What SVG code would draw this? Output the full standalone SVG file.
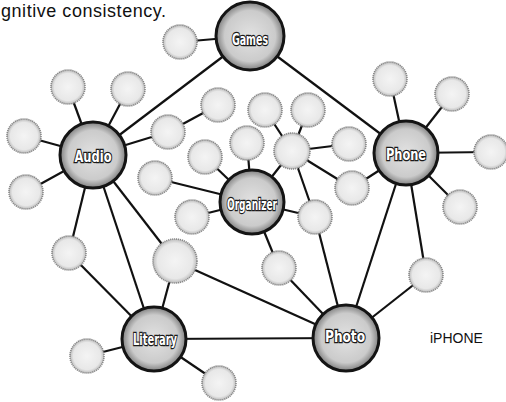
<svg xmlns="http://www.w3.org/2000/svg" width="506" height="402" viewBox="0 0 506 402">
<defs>
<radialGradient id="gMain" cx="50%" cy="50%" r="50%">
<stop offset="0%" stop-color="#e2e2e2"/>
<stop offset="75%" stop-color="#cbcbcb"/>
<stop offset="100%" stop-color="#808080"/>
</radialGradient>
<radialGradient id="gSmall" cx="50%" cy="50%" r="50%">
<stop offset="0%" stop-color="#f4f4f4"/>
<stop offset="80%" stop-color="#e8e8e8"/>
<stop offset="100%" stop-color="#bcbcbc"/>
</radialGradient>
</defs>
<style>
.main{fill:url(#gMain);stroke:#141414;stroke-width:3}
.small{fill:url(#gSmall);stroke:#888888;stroke-width:1.6;stroke-dasharray:1.2 0.8}
.lbl{font-family:"DejaVu Sans Condensed","Liberation Sans Narrow","Liberation Sans",sans-serif;font-weight:bold;font-size:16px;fill:#ffffff;stroke:#1a1a1a;stroke-width:2.4;paint-order:stroke;text-anchor:middle}
#connectors line{stroke:#111;stroke-width:2.2}
.note{font-family:"Liberation Sans",Arial,sans-serif;fill:#111}
</style>
<rect width="506" height="402" fill="#ffffff"/>
<text class="note" x="1" y="17" font-size="18" textLength="165" lengthAdjust="spacing">gnitive consistency.</text>
<g id="connectors">
<line x1="250" y1="36" x2="180" y2="42"/>
<line x1="250" y1="36" x2="93" y2="155"/>
<line x1="250" y1="36" x2="406" y2="153"/>
<line x1="93" y1="155" x2="68" y2="87"/>
<line x1="93" y1="155" x2="128" y2="89"/>
<line x1="93" y1="155" x2="24" y2="136"/>
<line x1="93" y1="155" x2="26" y2="192"/>
<line x1="93" y1="155" x2="168" y2="132"/>
<line x1="168" y1="132" x2="218" y2="105"/>
<line x1="93" y1="155" x2="69" y2="253"/>
<line x1="93" y1="155" x2="154" y2="339"/>
<line x1="93" y1="155" x2="175" y2="261"/>
<line x1="69" y1="253" x2="154" y2="339"/>
<line x1="175" y1="261" x2="154" y2="339"/>
<line x1="175" y1="261" x2="346" y2="338"/>
<line x1="154" y1="339" x2="346" y2="338"/>
<line x1="154" y1="339" x2="87" y2="356"/>
<line x1="154" y1="339" x2="219" y2="383"/>
<line x1="252" y1="202" x2="205" y2="157"/>
<line x1="252" y1="202" x2="155" y2="178"/>
<line x1="252" y1="202" x2="247" y2="143"/>
<line x1="252" y1="202" x2="292" y2="151"/>
<line x1="252" y1="202" x2="192" y2="217"/>
<line x1="252" y1="202" x2="315" y2="217"/>
<line x1="252" y1="202" x2="279" y2="268"/>
<line x1="292" y1="151" x2="265" y2="110"/>
<line x1="292" y1="151" x2="308" y2="110"/>
<line x1="292" y1="151" x2="349" y2="144"/>
<line x1="292" y1="151" x2="352" y2="188"/>
<line x1="292" y1="151" x2="315" y2="217"/>
<line x1="315" y1="217" x2="346" y2="338"/>
<line x1="279" y1="268" x2="346" y2="338"/>
<line x1="352" y1="188" x2="406" y2="153"/>
<line x1="406" y1="153" x2="390" y2="79"/>
<line x1="406" y1="153" x2="452" y2="94"/>
<line x1="406" y1="153" x2="491" y2="152"/>
<line x1="406" y1="153" x2="460" y2="207"/>
<line x1="406" y1="153" x2="346" y2="338"/>
<line x1="406" y1="153" x2="426" y2="275"/>
<line x1="426" y1="275" x2="346" y2="338"/>
</g>
<g id="n1"><circle class="small" cx="180" cy="42" r="17"/></g>
<g id="n2"><circle class="small" cx="68" cy="87" r="17"/></g>
<g id="n3"><circle class="small" cx="128" cy="89" r="17"/></g>
<g id="n4"><circle class="small" cx="24" cy="136" r="17"/></g>
<g id="n5"><circle class="small" cx="26" cy="192" r="17"/></g>
<g id="n6"><circle class="small" cx="168" cy="132" r="17"/></g>
<g id="n7"><circle class="small" cx="218" cy="105" r="17"/></g>
<g id="n8"><circle class="small" cx="205" cy="157" r="17"/></g>
<g id="n9"><circle class="small" cx="155" cy="178" r="17"/></g>
<g id="n10"><circle class="small" cx="247" cy="143" r="17"/></g>
<g id="n11"><circle class="small" cx="292" cy="151" r="18"/></g>
<g id="n12"><circle class="small" cx="265" cy="110" r="17"/></g>
<g id="n13"><circle class="small" cx="308" cy="110" r="17"/></g>
<g id="n14"><circle class="small" cx="349" cy="144" r="17"/></g>
<g id="n15"><circle class="small" cx="352" cy="188" r="17"/></g>
<g id="n16"><circle class="small" cx="315" cy="217" r="17"/></g>
<g id="n17"><circle class="small" cx="192" cy="217" r="17"/></g>
<g id="n18"><circle class="small" cx="279" cy="268" r="17"/></g>
<g id="n19"><circle class="small" cx="175" cy="261" r="22"/></g>
<g id="n20"><circle class="small" cx="69" cy="253" r="17"/></g>
<g id="n21"><circle class="small" cx="87" cy="356" r="17"/></g>
<g id="n22"><circle class="small" cx="219" cy="383" r="17"/></g>
<g id="n23"><circle class="small" cx="390" cy="79" r="17"/></g>
<g id="n24"><circle class="small" cx="452" cy="94" r="17"/></g>
<g id="n25"><circle class="small" cx="491" cy="152" r="17"/></g>
<g id="n26"><circle class="small" cx="460" cy="207" r="17"/></g>
<g id="n27"><circle class="small" cx="426" cy="275" r="17"/></g>
<g id="games"><circle class="main" cx="250" cy="36" r="34"/><text class="lbl" x="250" y="45" textLength="36" lengthAdjust="spacingAndGlyphs">Games</text></g>
<g id="audio"><circle class="main" cx="93" cy="155" r="33"/><text class="lbl" x="93" y="162" textLength="37" lengthAdjust="spacingAndGlyphs">Audio</text></g>
<g id="phone"><circle class="main" cx="406" cy="153" r="32"/><text class="lbl" x="406" y="160" textLength="40" lengthAdjust="spacingAndGlyphs">Phone</text></g>
<g id="organizer"><circle class="main" cx="252" cy="202" r="32"/><text class="lbl" x="252" y="210" textLength="50" lengthAdjust="spacingAndGlyphs">Organizer</text></g>
<g id="photo"><circle class="main" cx="346" cy="338" r="33"/><text class="lbl" x="345" y="342" textLength="40" lengthAdjust="spacingAndGlyphs">Photo</text></g>
<g id="literary"><circle class="main" cx="154" cy="339" r="32"/><text class="lbl" x="155" y="345" textLength="44" lengthAdjust="spacingAndGlyphs">Literary</text></g>
<text class="note" x="430" y="343" font-size="14">iPHONE</text>
</svg>
